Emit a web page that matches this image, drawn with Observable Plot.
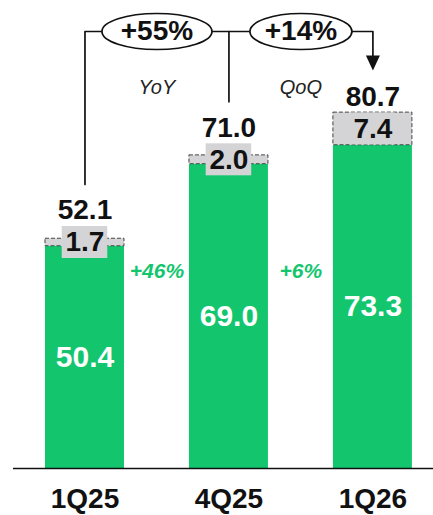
<!DOCTYPE html>
<html><head><meta charset="utf-8">
<script src="https://cdn.jsdelivr.net/npm/d3@7"></script>
<script src="https://cdn.jsdelivr.net/npm/@observablehq/plot@0.6"></script>
<style>body{margin:0;background:#fff}</style>
</head><body><div id="chart"></div>
<script>
const quarters = ["1Q25", "4Q25", "1Q26"];
const baseValues = [50.4, 69.0, 73.3];
const topValues = [1.7, 2.0, 7.4];
const totals = [52.1, 71.0, 80.7];
const growthLabels = ["+46%", "+6%"];
const changeLabels = ["+55%", "+14%"];
const changeNames = ["YoY", "QoQ"];

const GREEN = "#13c66e", GREY = "#d4d4d6", INK = "#111";
const FONT = "'Liberation Sans', Arial, Helvetica, sans-serif";
const W = 433, H = 515, mL = 13, mR = 0, mT = 0, mB = 47;
const pxPerUnit = 4.41;
const yMax = (H - mB - mT) / pxPerUnit;
const xDomain = [-0.4965, 2.4209];
const pxPerX = (W - mL - mR) / (xDomain[1] - xDomain[0]);
const barHalf = 39.5 / pxPerX;
const boxHalfH = 16 / pxPerUnit;
const TOP = (H - mB - 31) / pxPerUnit;
const ellipseRx = [55, 51];

const ctx = document.createElement("canvas").getContext("2d");
ctx.font = `bold 27px ${FONT}`;

const rows = quarters.map((q, i) => {
  const d = {i, q, base: baseValues[i], top: topValues[i], total: totals[i]};
  d.mid = d.base + d.top / 2;
  d.label = d.top.toFixed(1);
  d.boxHalfW = (ctx.measureText(d.label).width / 2 + 4) / pxPerX;
  d.anchor = Math.max(d.total, d.mid + boxHalfH);
  d.lineEnd = d.anchor + 42 / pxPerUnit;
  return d;
});

function ellipse(rx, ry) {
  const k = 0.5523;
  return {draw(c) {
    c.moveTo(rx, 0);
    c.bezierCurveTo(rx, ry * k, rx * k, ry, 0, ry);
    c.bezierCurveTo(-rx * k, ry, -rx, ry * k, -rx, 0);
    c.bezierCurveTo(-rx, -ry * k, -rx * k, -ry, 0, -ry);
    c.bezierCurveTo(rx * k, -ry, rx, -ry * k, rx, 0);
    c.closePath();
  }};
}
const arrowHead = {draw(c) { c.moveTo(-7, -15); c.lineTo(7, -15); c.lineTo(0, 0); c.closePath(); }};

const connector = [
  {x: 0, y: rows[0].lineEnd}, {x: 0, y: TOP}, {x: 2, y: TOP}, {x: 2, y: rows[2].lineEnd + 3 / pxPerUnit}
];
const midLine = [{x: 1, y: TOP}, {x: 1, y: rows[1].lineEnd}];
const changes = changeLabels.map((t, k) => ({x: k + 0.5, t, name: changeNames[k]}));
const growth = growthLabels.map((t, k) => ({x: k + 0.5, t}));

const chart = Plot.plot({
  width: W, height: H,
  marginLeft: mL, marginRight: mR, marginTop: mT, marginBottom: mB,
  style: {fontFamily: FONT, background: "#fff", overflow: "visible"},
  x: {domain: xDomain},
  y: {domain: [0, yMax], axis: null},
  marks: [
    Plot.rect(rows, {x1: d => d.i - barHalf, x2: d => d.i + barHalf, y1: 0, y2: "base", fill: GREEN}),
    Plot.rect(rows, {x1: d => d.i - barHalf, x2: d => d.i + barHalf, y1: "base", y2: "total", fill: GREY,
      stroke: "#444", strokeWidth: 1, strokeDasharray: "4,2"}),
    Plot.rect(rows, {x1: d => d.i - d.boxHalfW, x2: d => d.i + d.boxHalfW,
      y1: d => d.mid - boxHalfH, y2: d => d.mid + boxHalfH, fill: GREY}),
    Plot.ruleY([0], {stroke: INK, strokeWidth: 1.4}),
    Plot.axisX(quarters.map((_, i) => i), {tickFormat: i => quarters[i], tickSize: 0, tickPadding: 20,
      fontSize: 28, fontWeight: "bold", fill: INK, label: null}),
    Plot.text(rows, {x: "i", y: d => d.base / 2, text: d => d.base.toFixed(1), fill: "#fff",
      fontSize: 30, fontWeight: "bold", lineAnchor: "middle"}),
    Plot.text(rows, {x: "i", y: "mid", text: "label", fill: INK, fontSize: 28, fontWeight: "bold", lineAnchor: "middle"}),
    Plot.text(rows, {x: "i", y: "anchor", text: d => d.total.toFixed(1), fill: INK, fontSize: 28,
      fontWeight: "bold", lineAnchor: "bottom", dy: -7}),
    Plot.text(growth, {x: "x", y: () => 43.1, text: "t", fill: GREEN, fontSize: 21, fontWeight: "bold",
      fontStyle: "italic", lineAnchor: "bottom"}),
    Plot.line(connector, {x: "x", y: "y", stroke: INK, strokeWidth: 1.7, curve: "linear"}),
    Plot.line(midLine, {x: "x", y: "y", stroke: INK, strokeWidth: 1.7}),
    Plot.dot([connector[3]], {x: "x", y: d => rows[2].lineEnd, symbol: arrowHead, fill: INK, stroke: "none"}),
    ...changes.map((d, k) => Plot.dot([d], {x: "x", y: () => TOP, symbol: ellipse(ellipseRx[k], 18),
      fill: "#fff", stroke: INK, strokeWidth: 1.7})),
    Plot.text(changes, {x: "x", y: () => TOP, text: "t", fill: INK, fontSize: 28, fontWeight: "bold", lineAnchor: "middle"}),
    Plot.text(changes, {x: "x", y: () => 85, text: "name", fill: "#222", fontSize: 20, fontStyle: "italic", lineAnchor: "bottom"})
  ]
});
document.getElementById("chart").appendChild(chart);
</script>
</body></html>
